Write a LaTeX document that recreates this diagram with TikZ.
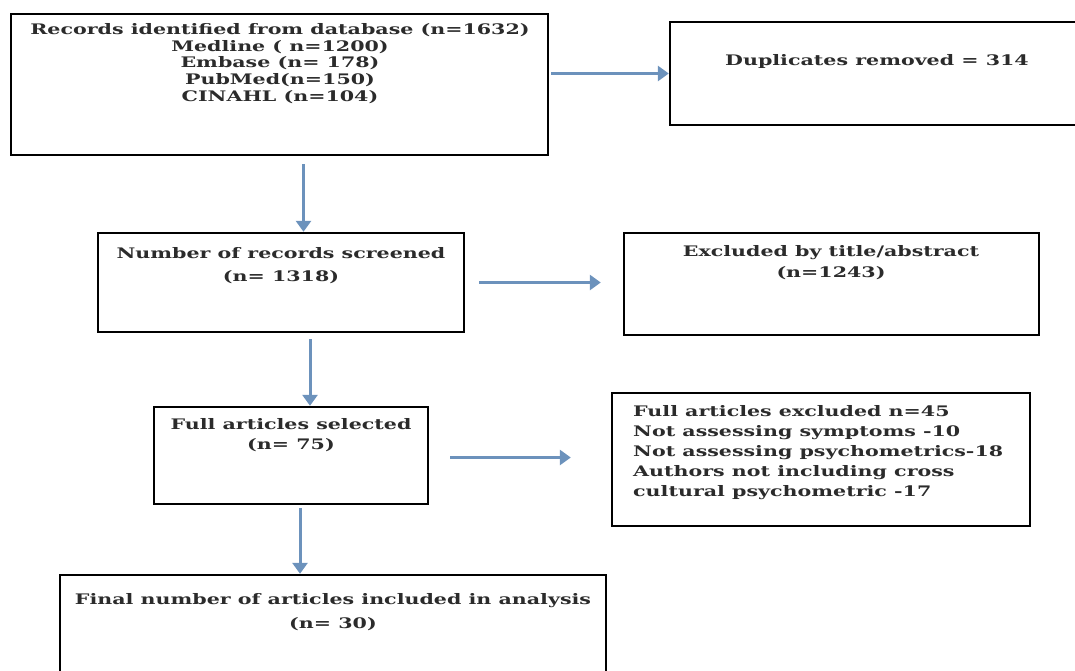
\documentclass[tikz,border=0pt]{standalone}
\usepackage{fontspec}
\setmainfont[FakeStretch=1.42]{DejaVu Serif}
\usetikzlibrary{arrows.meta,positioning,calc}
\definecolor{Ink}{HTML}{2B2B2B}
\definecolor{Flow}{HTML}{6C92BC}
\tikzset{
  prisma/.style={draw=black,line width=2.4pt,fill=white,inner sep=0pt},
  prismatxt/.style={align=center,text=Ink,font=\fontsize{14.5}{16.7}\selectfont\bfseries,inner sep=0pt},
  arrow/.style={-{Triangle[length=11pt,width=15pt]},line width=3pt,draw=Flow}
}

\begin{document}
\begin{tikzpicture}[x=1pt,y=-1pt]
  \useasboundingbox (0,0) rectangle (1075,670);
  % boxes
  \node[prisma,minimum width=537pt,minimum height=141pt] (rec) at (279.5,84.5) {};
  \node[prisma,minimum width=415pt,minimum height=103pt] (dup) at (877.5,73.5) {};
  \node[prisma,minimum width=366pt,minimum height=99pt] (scr) at (281,282.5) {};
  \node[prisma,minimum width=415pt,minimum height=102pt] (tit) at (831.5,284) {};
  \node[prisma,minimum width=274pt,minimum height=97pt] (full) at (291,455.5) {};
  \node[prisma,minimum width=418pt,minimum height=133pt] (excl) at (821,459.5) {};
  \node[prisma,minimum width=546pt,minimum height=110pt] (fin) at (333,630) {};
  % texts
  \node[prismatxt] (rec-t) at (280,63.5) {Records identified from database (n=1632)\\Medline ( n=1200)\\Embase (n= 178)\\PubMed(n=150)\\CINAHL (n=104)};
  \node[prismatxt] (dup-t) at (877,61) {Duplicates removed = 314};
  \node[prismatxt] (scr-t) at (281,265.5) {Number of records screened\\[6.3pt](n= 1318)};
  \node[prismatxt] (tit-t) at (831,262.5) {Excluded by title/abstract\\[4.3pt](n=1243)};
  \node[prismatxt] (full-t) at (291,435) {Full articles selected\\[3.3pt](n= 75)};
  \node[prismatxt,align=left,anchor=west] (excl-t) at (633,453) {Full articles excluded n=45\\[3.3pt]Not assessing symptoms -10\\[3.3pt]Not assessing psychometrics-18\\[3.3pt]Authors not including cross\\[3.3pt]cultural psychometric -17};
  \node[prismatxt] (fin-t) at (333,612) {Final number of articles included in analysis\\[7.3pt](n= 30)};
  % arrows
  \draw[arrow,shorten <=2pt] (rec.east |- dup.west) -- (dup.west);
  \draw[arrow,shorten <=8pt] ([xshift=24pt]rec.south) -- ([xshift=24pt]rec.south |- scr.north);
  \draw[arrow,shorten <=14pt,shorten >=22pt] (scr.east) -- (scr.east -| tit.west);
  \draw[arrow,shorten <=6pt] ([xshift=29pt]scr.south) -- ([xshift=29pt]scr.south |- full.north);
  \draw[arrow,shorten <=21pt,shorten >=40pt] ([yshift=-2pt]full.east) -- ([yshift=-2pt]full.east -| excl.west);
  \draw[arrow,shorten <=3pt] ([xshift=9pt]full.south) -- ([xshift=9pt]full.south |- fin.north);
\end{tikzpicture}
\end{document}
